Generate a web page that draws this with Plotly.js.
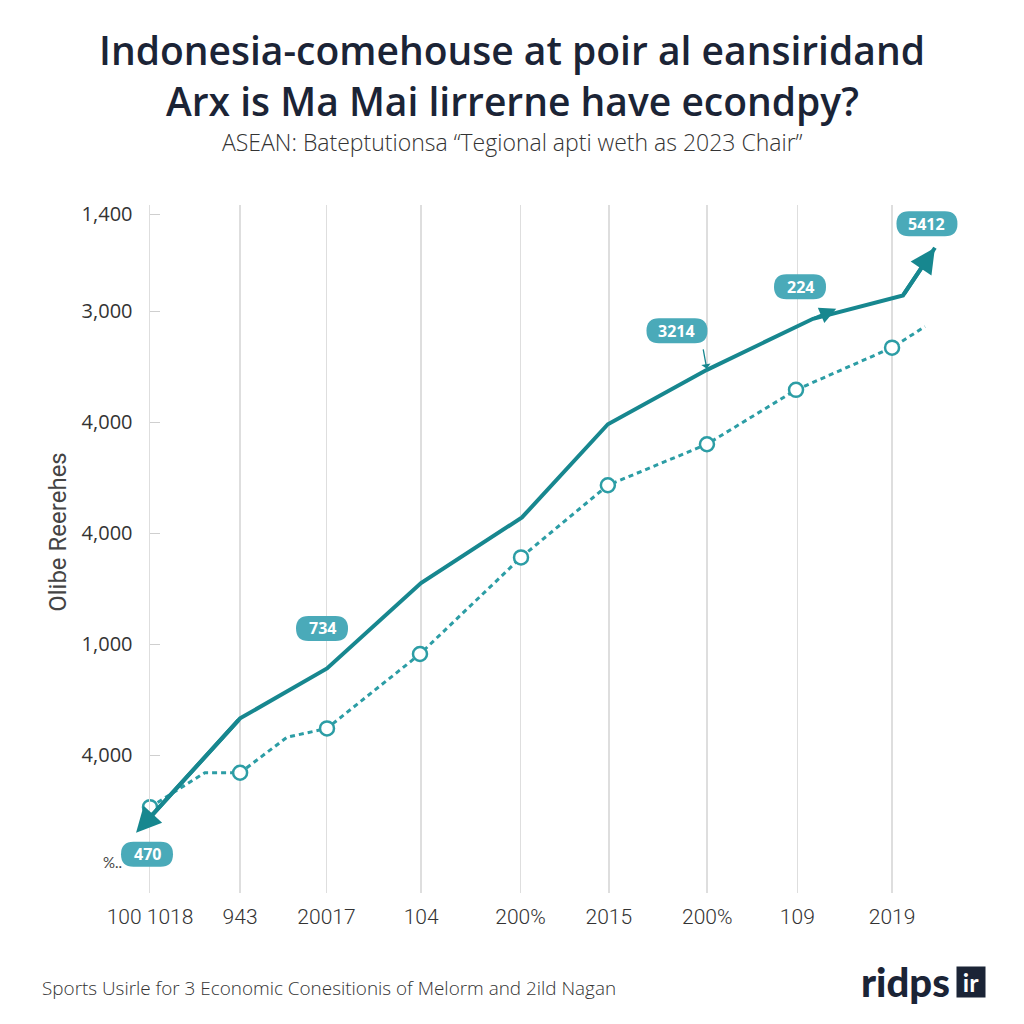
<!DOCTYPE html>
<html>
<head>
<meta charset="utf-8">
<script src="https://cdn.plot.ly/plotly-3.0.1.min.js"></script>
<style>
  html, body { margin: 0; padding: 0; background: #ffffff; }
  #chart { width: 1024px; height: 1024px; }
</style>
</head>
<body>
<div id="chart"></div>
<script>
// ---- Data ----
const titleLines = ["Indonesia-comehouse at poir al eansiridand", "Arx is Ma Mai lirrerne have econdpy?"];
const subtitleText = "ASEAN: Bateptutionsa \u201cTegional apti weth as 2023 Chair\u201d";
const yAxisTitle = "Olibe Reerehes";
const footerText = "Sports Usirle for 3 Economic Conesitionis of Melorm and 2ild Nagan";
const logoMain = "ridps";
const logoBox = "ir";

const xTickPos = [0, 0.97, 1.9, 2.92, 3.99, 4.94, 6.0, 6.97, 7.99];
const xTickText = ["100 1018", "943", "20017", "104", "200%", "2015", "200%", "109", "2019"];
const yTickPos = [1, 2, 3, 4, 5, 5.87];
const yTickText = ["4,000", "1,000", "4,000", "4,000", "3,000", "1,400"];

// solid series (first and last points are the arrow tips)
const solidX = [-0.15, 0.97, 1.906, 2.918, 4.005, 4.93, 5.997, 7.139, 8.108, 8.452];
const solidY = [0.30, 1.33, 1.78, 2.55, 3.14, 3.98, 4.47, 4.93, 5.14, 5.57];

// dashed series path
const dashX = [0, 0.59, 0.97, 1.475, 1.906, 2.907, 3.995, 4.93, 5.997, 6.956, 7.99, 8.345];
const dashY = [0.53, 0.84, 0.84, 1.16, 1.24, 1.91, 2.78, 3.43, 3.80, 4.29, 4.67, 4.86];
// dashed series marked points
const markX = [0, 0.97, 1.906, 2.907, 3.995, 4.93, 5.997, 6.956, 7.99];
const markY = [0.53, 0.84, 1.24, 1.91, 2.78, 3.43, 3.80, 4.29, 4.67];

// value labels and the point each is attached to ("dash" = marked dashed point, "solid" = solid point)
const labelText = ["470", "734", "3214", "224", "5412"];
const labelSeries = ["dash", "solid", "solid", "solid", "solid"];
const labelPoint = [0, 2, 6, 7, 9];

// ---- Styling ----
const teal = "#17878f";
const tealDash = "#2c9da5";
const labelFill = "#4aaab9";
const navy = "#1b2436";
const grid = "#dedede";
const xRange = [0, 8.614];
const yRange = [-0.243, 5.955];

// label box offsets from their anchor point, in pixels (y up)
const labelOffsets = [[-3, -47], [-5, 40], [-30, 39], [-13, 32], [-8, 24]];

function pill(cx, cy, w, h) {
  const r = h / 2;
  const x0 = cx - w / 2, x1 = cx + w / 2, y0 = cy - h / 2, y1 = cy + h / 2;
  return `M${x0 + r},${y0} L${x1 - r},${y0} Q${x1},${y0} ${x1},${y0 + r} ` +
         `L${x1},${y1 - r} Q${x1},${y1} ${x1 - r},${y1} L${x0 + r},${y1} ` +
         `Q${x0},${y1} ${x0},${y1 - r} L${x0},${y0 + r} Q${x0},${y0} ${x0 + r},${y0} Z`;
}

const annotations = [];
const shapes = [];

labelText.forEach((t, i) => {
  const p = labelPoint[i];
  const ax = labelSeries[i] === "dash" ? markX[p] : solidX[p];
  const ay = labelSeries[i] === "dash" ? markY[p] : solidY[p];
  const off = labelOffsets[i];
  const w = 25 + 9 * t.length;
  shapes.push({
    type: "path", xref: "paper", yref: "y", xsizemode: "pixel", ysizemode: "pixel",
    xanchor: (ax - xRange[0]) / (xRange[1] - xRange[0]), yanchor: ay,
    path: pill(off[0], off[1], w, 25),
    fillcolor: labelFill, line: {width: 0}, layer: "above"
  });
  annotations.push({
    x: ax, y: ay, xref: "x", yref: "y", showarrow: false,
    xshift: off[0], yshift: off[1],
    text: "<b>" + t + "</b>",
    font: {family: "'Open Sans', sans-serif", size: 16, color: "#ffffff"}
  });
});

// small pointer under "3214"
annotations.push({
  x: solidX[6], y: solidY[6], xref: "x", yref: "y", text: "",
  showarrow: true, ax: -4, ay: -22, arrowhead: 1, arrowsize: 1.2, arrowwidth: 1.3, arrowcolor: teal, standoff: 1
});

// arrowheads at both ends of the solid line
const n = solidX.length;
annotations.push({
  x: solidX[0], y: solidY[0], ax: solidX[1], ay: solidY[1],
  xref: "x", yref: "y", axref: "x", ayref: "y",
  text: "", showarrow: true, arrowhead: 2, arrowsize: 1.25, arrowwidth: 4, arrowcolor: teal
});
annotations.push({
  x: solidX[n - 1], y: solidY[n - 1], ax: solidX[n - 2], ay: solidY[n - 2],
  xref: "x", yref: "y", axref: "x", ayref: "y",
  text: "", showarrow: true, arrowhead: 2, arrowsize: 1.25, arrowwidth: 4, arrowcolor: teal
});
// small flag arrow on the line near "224"
annotations.push({
  x: solidX[7] + 0.25, y: solidY[7] + 0.09, ax: solidX[7], ay: solidY[7],
  xref: "x", yref: "y", axref: "x", ayref: "y",
  text: "", showarrow: true, arrowhead: 2, arrowsize: 1.1, arrowwidth: 3, arrowcolor: teal
});

// title lines
annotations.push({
  text: titleLines[0], xref: "paper", yref: "paper", x: 0.4525, y: 1.2253,
  xanchor: "center", yanchor: "middle", showarrow: false,
  font: {family: "'Open Sans', sans-serif", size: 39, color: navy, weight: 600}
});
annotations.push({
  text: titleLines[1], xref: "paper", yref: "paper", x: 0.4525, y: 1.1526,
  xanchor: "center", yanchor: "middle", showarrow: false,
  font: {family: "'Open Sans', sans-serif", size: 39, color: navy, weight: 600}
});
// subtitle
annotations.push({
  text: subtitleText, xref: "paper", yref: "paper", x: 0.4525, y: 1.0916,
  xanchor: "center", yanchor: "middle", showarrow: false,
  font: {family: "'Open Sans', sans-serif", size: 23, color: "#333333", weight: 300}
});
// y-axis title
annotations.push({
  text: yAxisTitle, xref: "paper", yref: "paper", x: -0.115, y: 0.525,
  textangle: -90, xanchor: "center", yanchor: "middle", showarrow: false,
  font: {family: "'Liberation Sans Narrow', Roboto, sans-serif", size: 24, color: "#444444"}
});
// small "%.." mark
annotations.push({
  text: "%..", xref: "paper", yref: "paper", x: -0.047, y: 0.045,
  xanchor: "center", yanchor: "middle", showarrow: false,
  font: {family: "Lato, sans-serif", size: 15, color: "#444444"}
});
// footer
annotations.push({
  text: footerText, xref: "paper", yref: "paper", x: -0.1375, y: -0.138,
  xanchor: "left", yanchor: "middle", showarrow: false,
  font: {family: "'Open Sans', sans-serif", size: 18.9, color: "#333333", weight: 300}
});
// logo
annotations.push({
  text: logoMain, xref: "paper", yref: "paper", x: 1.0025, y: -0.13,
  xanchor: "right", yanchor: "middle", showarrow: false,
  font: {family: "Lato, 'Open Sans', sans-serif", size: 40, color: navy, weight: 900}
});
annotations.push({
  text: "<b>" + logoBox + "</b>", xref: "paper", yref: "paper", x: 1.007, y: -0.129,
  xanchor: "left", yanchor: "middle", showarrow: false,
  width: 28, height: 30, align: "center", valign: "middle",
  bgcolor: navy, borderpad: 0,
  font: {family: "Lato, 'Open Sans', sans-serif", size: 25, color: "#ffffff"}
});

const traces = [
  {
    x: dashX, y: dashY, mode: "lines", type: "scatter",
    line: {color: tealDash, width: 3, dash: "5px,4px"},
    hoverinfo: "skip", cliponaxis: false
  },
  {
    x: markX, y: markY, mode: "markers", type: "scatter",
    marker: {symbol: "circle", size: 14, color: "#ffffff", line: {color: tealDash, width: 2.5}},
    cliponaxis: false
  },
  {
    x: solidX, y: solidY, mode: "lines", type: "scatter",
    line: {color: teal, width: 4},
    cliponaxis: false
  }
];

const layout = {
  width: 1024, height: 1024,
  paper_bgcolor: "#ffffff", plot_bgcolor: "#ffffff",
  margin: {l: 150, r: 74, t: 205, b: 131},
  showlegend: false,
  xaxis: {
    range: xRange, tickmode: "array", tickvals: xTickPos, ticktext: xTickText,
    showgrid: true, gridcolor: grid, gridwidth: 1.5, zeroline: false, showline: false,
    ticks: "", ticklabelstandoff: 9,
    tickfont: {family: "Roboto, sans-serif", size: 21, color: "#333333", weight: 300}
  },
  yaxis: {
    range: yRange, tickmode: "array", tickvals: yTickPos, ticktext: yTickText,
    showgrid: false, zeroline: false, showline: true, linecolor: grid, linewidth: 1.5,
    ticks: "inside", ticklen: 10, tickcolor: "#cfcfcf", tickwidth: 1,
    ticklabelstandoff: 12,
    tickfont: {family: "'Open Sans', sans-serif", size: 20, color: "#333333"}
  },
  shapes: shapes,
  annotations: annotations
};

Plotly.newPlot("chart", traces, layout, {staticPlot: true, displayModeBar: false});
</script>
</body>
</html>
